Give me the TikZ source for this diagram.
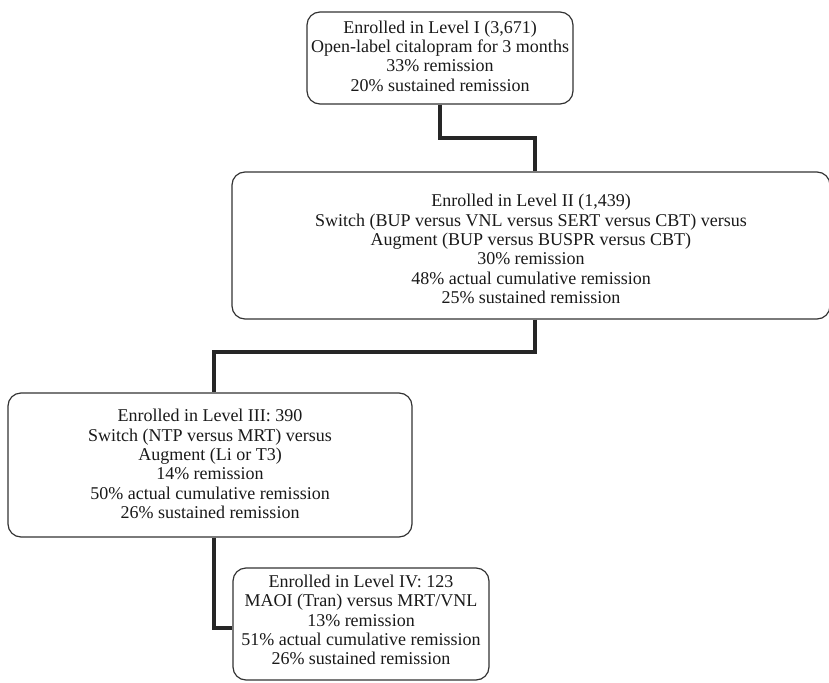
\documentclass[tikz,border=0pt]{standalone}
\usepackage{fontspec}
\setmainfont{Liberation Serif}
\begin{document}
\begin{tikzpicture}[x=1pt,y=-1pt,
  stagebox/.style={draw=black!80, line width=1.2pt, rounded corners=13pt,
    inner sep=0pt},
  stagetext/.style={align=center, inner sep=0pt, text=black!90,
    font=\fontsize{18}{19.3}\selectfont},
  conn/.style={draw=black!85, line width=3.4pt}]
\useasboundingbox (0,0) rectangle (829,682);
\node[stagebox, minimum width=266pt, minimum height=92pt] (b1) at (440,58) {};
\node[stagetext] (t1) at (440,56)
  {Enrolled in Level I (3,671)\\Open-label citalopram for 3 months\\33\% remission\\20\% sustained remission};
\node[stagebox, minimum width=598pt, minimum height=147pt] (b2) at (531,245.5) {};
\node[stagetext] (t2) at (531,249)
  {Enrolled in Level II (1,439)\\Switch (BUP versus VNL versus SERT versus CBT) versus\\Augment (BUP versus BUSPR versus CBT)\\30\% remission\\48\% actual cumulative remission\\25\% sustained remission};
\node[stagebox, minimum width=404pt, minimum height=144pt] (b3) at (210,465) {};
\node[stagetext] (t3) at (210,464)
  {Enrolled in Level III: 390\\Switch (NTP versus MRT) versus\\Augment (Li or T3)\\14\% remission\\50\% actual cumulative remission\\26\% sustained remission};
\node[stagebox, minimum width=256pt, minimum height=112pt] (b4) at (361,624) {};
\node[stagetext] (t4) at (361,620)
  {Enrolled in Level IV: 123\\MAOI (Tran) versus MRT/VNL\\13\% remission\\51\% actual cumulative remission\\26\% sustained remission};
\coordinate (j1) at (535,138);
\coordinate (j2) at (535,352);
\coordinate (j3) at (214,352);
\coordinate (j4) at (214,628);
\draw[conn] (b1.south) |- (j1) -- (j1 |- b2.north);
\draw[conn] (j2 |- b2.south) -- (j2) -- (j3) -- (j3 |- b3.north);
\draw[conn] (j3 |- b3.south) -- (j4) -- (j4 -| b4.west);
\end{tikzpicture}
\end{document}
